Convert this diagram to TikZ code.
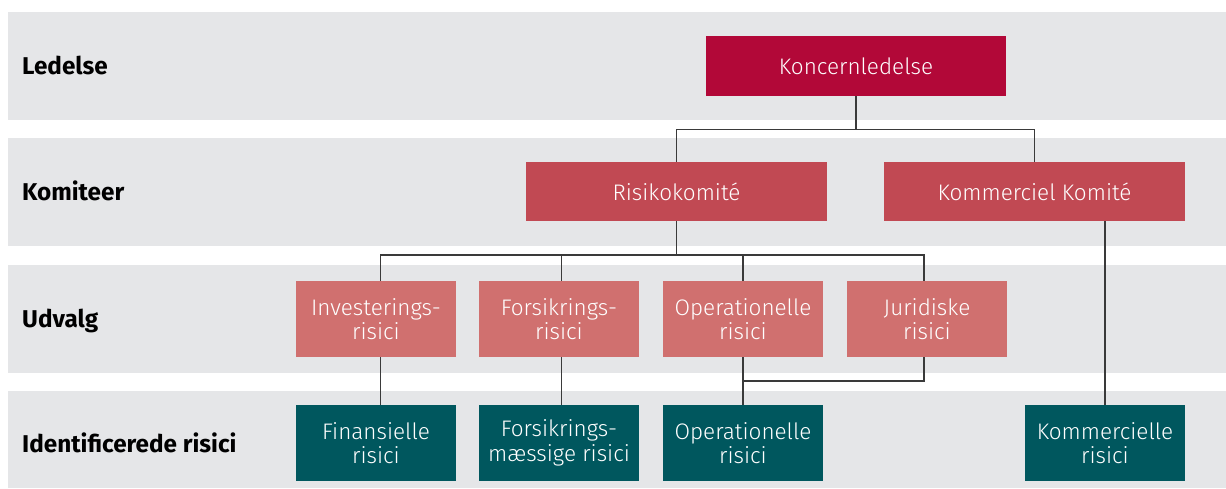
\documentclass[tikz,border=0pt]{standalone}
\usepackage{fontspec}
\setmainfont{Fira Sans}
\newfontfamily\boxfont{Fira Sans Light}
\definecolor{bandgray}{HTML}{E5E6E8}
\definecolor{clead}{HTML}{B20838}
\definecolor{ckom}{HTML}{C14953}
\definecolor{cudv}{HTML}{D0706F}
\definecolor{crisk}{HTML}{00575E}
\definecolor{cline}{HTML}{3A3A3A}
\begin{document}
\begin{tikzpicture}[x=1pt,y=-1pt,
  band/.style={fill=bandgray},
  rowlabel/.style={anchor=base west,inner sep=0pt,font=\bfseries\fontsize{24.3}{28}\selectfont,text=black},
  boxbase/.style={rectangle,inner sep=0pt,align=center,text=white,font=\boxfont\fontsize{22.5}{24.5}\selectfont},
  leadbox/.style={boxbase,fill=clead,minimum width=300pt,minimum height=60pt},
  kombox/.style={boxbase,fill=ckom,minimum width=301pt,minimum height=59pt},
  udvbox/.style={boxbase,fill=cudv,minimum width=160pt,minimum height=76pt},
  riskbox/.style={boxbase,fill=crisk,minimum width=160pt,minimum height=76pt},
  conn/.style={draw=cline,line width=1.3pt}]
\useasboundingbox (0,0) rectangle (1226,488);
% bands
\fill[band] (8,12) rectangle (1226,120);
\fill[band] (8,138) rectangle (1226,246);
\fill[band] (8,265) rectangle (1226,373);
\fill[band] (8,391) rectangle (1226,488);
% row labels
\node[rowlabel] (l1) at (22,74.5) {Ledelse};
\node[rowlabel] (l2) at (22,200) {Komiteer};
\node[rowlabel] (l3) at (22,327.5) {Udvalg};
\node[rowlabel] (l4) at (22,452) {Identificerede risici};
% boxes
\node[leadbox] (kl) at (856,66) {Koncernledelse};
\node[kombox] (rk) at (676.5,191.5) {Risikokomité};
\node[kombox] (kk) at (1034.5,191.5) {Kommerciel Komité};
\node[udvbox] (iv) at (376,319) {Investerings-\\risici};
\node[udvbox] (fo) at (559,319) {Forsikrings-\\risici};
\node[udvbox] (op) at (743,319) {Operationelle\\risici};
\node[udvbox] (ju) at (927,319) {Juridiske\\risici};
\node[riskbox] (fi) at (376,443) {Finansielle\\risici};
\node[riskbox] (fm) at (559,443) {Forsikrings-\\mæssige risici};
\node[riskbox] (or) at (743,443) {Operationelle\\risici};
\node[riskbox] (kr) at (1105,443) {Kommercielle\\risici};
% junctions
\coordinate (j1) at (856,129.5);
\coordinate (j2) at (676.5,255);
\coordinate (j3) at (743,381);
% connectors
\draw[conn] (kl.south) -- (j1);
\draw[conn] (rk.north) |- (j1) -| (kk.north);
\draw[conn] (rk.south) -- (j2);
\draw[conn] ([xshift=4.5pt]iv.north) |- (j2) -| ([xshift=-3pt]ju.north);
\draw[conn] ([xshift=2.5pt]fo.north) -- ([xshift=2.5pt]fo.north |- j2);
\draw[conn] (op.north) -- (op.north |- j2);
\draw[conn] ([xshift=4.5pt]iv.south) -- ([xshift=4.5pt]fi.north);
\draw[conn] ([xshift=2.5pt]fo.south) -- ([xshift=2.5pt]fm.north);
\draw[conn] (op.south) -- (or.north);
\draw[conn] ([xshift=-3pt]ju.south) |- (j3);
\draw[conn] (kr.north) -- (kr.north |- kk.south);
\end{tikzpicture}
\end{document}
